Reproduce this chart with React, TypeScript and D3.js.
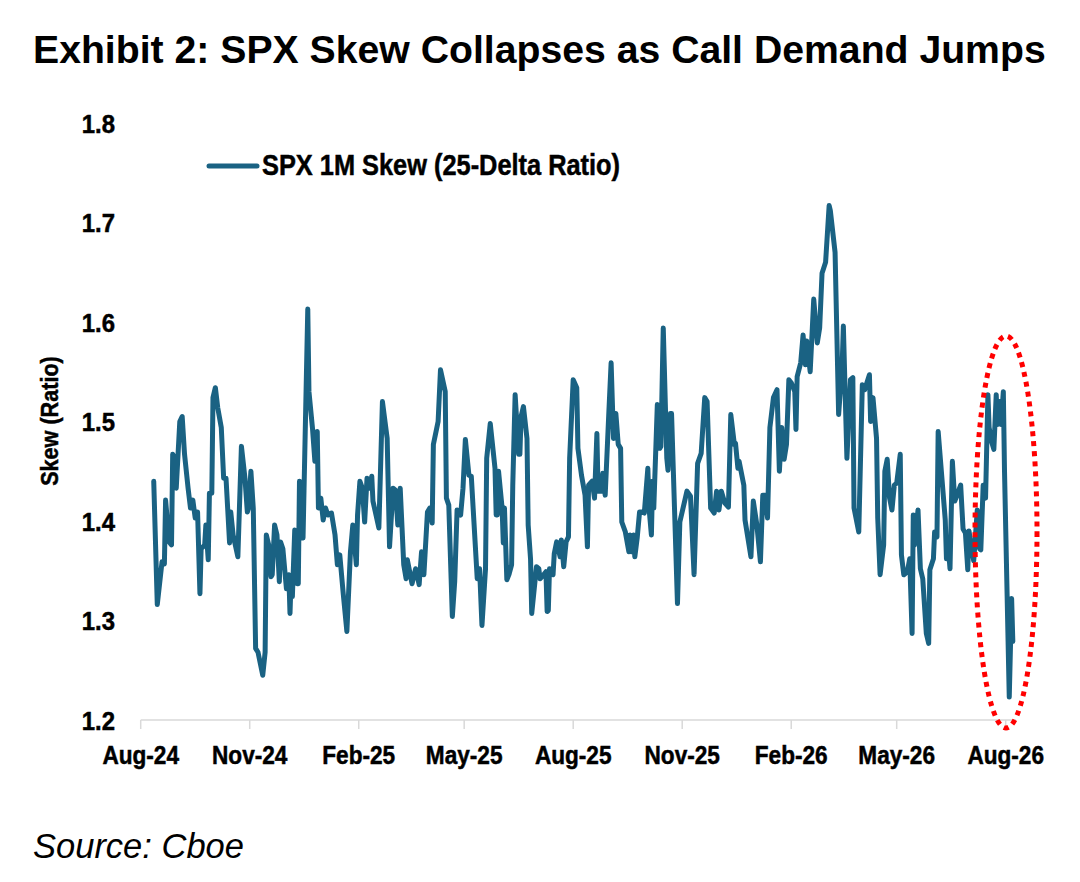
import * as d3 from "d3";

const obsDates: string[] = [
  "2024-08-12", "2024-08-15", "2024-08-19", "2024-08-21", "2024-08-22", "2024-08-25", "2024-08-27", "2024-08-28", "2024-08-29", "2024-08-31",
  "2024-09-03", "2024-09-05", "2024-09-07", "2024-09-10", "2024-09-12", "2024-09-14", "2024-09-16", "2024-09-18", "2024-09-20", "2024-09-21", "2024-09-24", "2024-09-25", "2024-09-27", "2024-09-28", "2024-09-30",
  "2024-10-01", "2024-10-03", "2024-10-05", "2024-10-08", "2024-10-10", "2024-10-12", "2024-10-15", "2024-10-16", "2024-10-18", "2024-10-22", "2024-10-25", "2024-10-28", "2024-10-30", "2024-10-31",
  "2024-11-02", "2024-11-04", "2024-11-06", "2024-11-08", "2024-11-12", "2024-11-14", "2024-11-15", "2024-11-17", "2024-11-19", "2024-11-20", "2024-11-22", "2024-11-24", "2024-11-26", "2024-11-27", "2024-11-29",
  "2024-12-02", "2024-12-04", "2024-12-05", "2024-12-06", "2024-12-07", "2024-12-09", "2024-12-11", "2024-12-12", "2024-12-13", "2024-12-15", "2024-12-16", "2024-12-20", "2024-12-21", "2024-12-24", "2024-12-26", "2024-12-28", "2024-12-29", "2024-12-31",
  "2025-01-02", "2025-01-04", "2025-01-06", "2025-01-09", "2025-01-12", "2025-01-14", "2025-01-16", "2025-01-19", "2025-01-22", "2025-01-25", "2025-01-27", "2025-01-30", "2025-01-31",
  "2025-02-02", "2025-02-04", "2025-02-06", "2025-02-08", "2025-02-10", "2025-02-12", "2025-02-13", "2025-02-18", "2025-02-21", "2025-02-25", "2025-02-27",
  "2025-03-02", "2025-03-04", "2025-03-06", "2025-03-08", "2025-03-11", "2025-03-13", "2025-03-14", "2025-03-18", "2025-03-21", "2025-03-24", "2025-03-26", "2025-03-28", "2025-03-31",
  "2025-04-02", "2025-04-04", "2025-04-05", "2025-04-09", "2025-04-11", "2025-04-15", "2025-04-16", "2025-04-18", "2025-04-21", "2025-04-23", "2025-04-25", "2025-04-28", "2025-04-30",
  "2025-05-02", "2025-05-05", "2025-05-07", "2025-05-12", "2025-05-14", "2025-05-16", "2025-05-19", "2025-05-20", "2025-05-23", "2025-05-27", "2025-05-28", "2025-05-29", "2025-05-30",
  "2025-06-02", "2025-06-03", "2025-06-04", "2025-06-06", "2025-06-08", "2025-06-10", "2025-06-11", "2025-06-13", "2025-06-16", "2025-06-17", "2025-06-18", "2025-06-20", "2025-06-23", "2025-06-24", "2025-06-26", "2025-06-27",
  "2025-07-01", "2025-07-03", "2025-07-04", "2025-07-07", "2025-07-09", "2025-07-10", "2025-07-11", "2025-07-12", "2025-07-15", "2025-07-16", "2025-07-18", "2025-07-21", "2025-07-22", "2025-07-24", "2025-07-26", "2025-07-28", "2025-07-29",
  "2025-08-01", "2025-08-04", "2025-08-05", "2025-08-08", "2025-08-11", "2025-08-13", "2025-08-14", "2025-08-17", "2025-08-19", "2025-08-21", "2025-08-22", "2025-08-25", "2025-08-26", "2025-08-28", "2025-08-31",
  "2025-09-02", "2025-09-04", "2025-09-06", "2025-09-08", "2025-09-10", "2025-09-11", "2025-09-14", "2025-09-17", "2025-09-18", "2025-09-19", "2025-09-21", "2025-09-22", "2025-09-24", "2025-09-26", "2025-09-28", "2025-09-30",
  "2025-10-03", "2025-10-04", "2025-10-06", "2025-10-07", "2025-10-08", "2025-10-11", "2025-10-13", "2025-10-14", "2025-10-16", "2025-10-19", "2025-10-20", "2025-10-22", "2025-10-23", "2025-10-28", "2025-10-30",
  "2025-11-05", "2025-11-08", "2025-11-11", "2025-11-14", "2025-11-17", "2025-11-20", "2025-11-22", "2025-11-25", "2025-11-28", "2025-11-30",
  "2025-12-02", "2025-12-04", "2025-12-07", "2025-12-10", "2025-12-12", "2025-12-15", "2025-12-16", "2025-12-18", "2025-12-19", "2025-12-23", "2025-12-24", "2025-12-29", "2025-12-31",
  "2026-01-03", "2026-01-06", "2026-01-08", "2026-01-10", "2026-01-12", "2026-01-14", "2026-01-17", "2026-01-20", "2026-01-22", "2026-01-24", "2026-01-26", "2026-01-28", "2026-01-30",
  "2026-02-01", "2026-02-04", "2026-02-05", "2026-02-06", "2026-02-09", "2026-02-11", "2026-02-13", "2026-02-14", "2026-02-17", "2026-02-20", "2026-02-23", "2026-02-25", "2026-02-27",
  "2026-03-02", "2026-03-05", "2026-03-06", "2026-03-10", "2026-03-13", "2026-03-16", "2026-03-17", "2026-03-20", "2026-03-23", "2026-03-25", "2026-03-26", "2026-03-30",
  "2026-04-02", "2026-04-04", "2026-04-08", "2026-04-09", "2026-04-11", "2026-04-14", "2026-04-15", "2026-04-17", "2026-04-20", "2026-04-21", "2026-04-23", "2026-04-25", "2026-04-27", "2026-04-29",
  "2026-05-01", "2026-05-04", "2026-05-05", "2026-05-07", "2026-05-10", "2026-05-12", "2026-05-14", "2026-05-15", "2026-05-16", "2026-05-19", "2026-05-21", "2026-05-23", "2026-05-26", "2026-05-28", "2026-05-29",
  "2026-06-01", "2026-06-02", "2026-06-04", "2026-06-05", "2026-06-11", "2026-06-12", "2026-06-13", "2026-06-15", "2026-06-17", "2026-06-19", "2026-06-21", "2026-06-24", "2026-06-26", "2026-06-28", "2026-06-30",
  "2026-07-01", "2026-07-03", "2026-07-05", "2026-07-08", "2026-07-10", "2026-07-11", "2026-07-13", "2026-07-15", "2026-07-17", "2026-07-18", "2026-07-20", "2026-07-22", "2026-07-24", "2026-07-25", "2026-07-27", "2026-07-28", "2026-07-30", "2026-07-31",
  "2026-08-04", "2026-08-06", "2026-08-07",
];

// SPX 1M skew, 25-delta ratio (same order as obsDates, one row per month)
const skew: number[] = [
  1.440, 1.316, 1.359, 1.357, 1.421, 1.379, 1.376, 1.467, 1.465, 1.433,
  1.500, 1.505, 1.467, 1.433, 1.413, 1.421, 1.403, 1.409, 1.327, 1.372, 1.376, 1.396, 1.361, 1.428, 1.428,
  1.524, 1.534, 1.514, 1.494, 1.443, 1.443, 1.378, 1.409, 1.386, 1.364, 1.475, 1.443, 1.409, 1.413,
  1.450, 1.413, 1.272, 1.268, 1.245, 1.268, 1.386, 1.376, 1.344, 1.346, 1.396, 1.386, 1.339, 1.379, 1.372,
  1.332, 1.346, 1.307, 1.344, 1.324, 1.391, 1.337, 1.337, 1.440, 1.394, 1.383, 1.613, 1.530, 1.493, 1.460, 1.490, 1.413, 1.423,
  1.401, 1.413, 1.406, 1.408, 1.386, 1.356, 1.366, 1.326, 1.289, 1.369, 1.396, 1.356, 1.406,
  1.440, 1.433, 1.399, 1.443, 1.433, 1.445, 1.420, 1.393, 1.520, 1.483, 1.374,
  1.433, 1.431, 1.396, 1.433, 1.356, 1.342, 1.361, 1.337, 1.352, 1.336, 1.369, 1.346, 1.409,
  1.413, 1.398, 1.477, 1.500, 1.552, 1.530, 1.423, 1.416, 1.304, 1.339, 1.411, 1.406, 1.433,
  1.482, 1.446, 1.445, 1.342, 1.352, 1.295, 1.352, 1.463, 1.498, 1.453, 1.406, 1.406, 1.450,
  1.413, 1.378, 1.413, 1.341, 1.347, 1.356, 1.436, 1.527, 1.467, 1.467, 1.505, 1.515, 1.483, 1.396, 1.362, 1.307,
  1.354, 1.352, 1.342, 1.346, 1.349, 1.309, 1.310, 1.352, 1.346, 1.367, 1.379, 1.364, 1.381, 1.354, 1.379, 1.384, 1.463,
  1.542, 1.534, 1.473, 1.446, 1.426, 1.374, 1.436, 1.440, 1.423, 1.488, 1.430, 1.430, 1.448, 1.426, 1.507,
  1.559, 1.483, 1.508, 1.477, 1.473, 1.399, 1.389, 1.369, 1.386, 1.369, 1.386, 1.364, 1.383, 1.409, 1.409, 1.408,
  1.453, 1.413, 1.386, 1.440, 1.413, 1.517, 1.473, 1.475, 1.594, 1.463, 1.451, 1.508, 1.508, 1.317, 1.399,
  1.430, 1.425, 1.346, 1.458, 1.468, 1.524, 1.520, 1.413, 1.408, 1.430,
  1.411, 1.430, 1.418, 1.414, 1.507, 1.477, 1.478, 1.453, 1.460, 1.436, 1.401, 1.364, 1.420,
  1.396, 1.359, 1.426, 1.426, 1.403, 1.494, 1.524, 1.532, 1.450, 1.494, 1.462, 1.477, 1.542,
  1.539, 1.530, 1.492, 1.545, 1.559, 1.587, 1.557, 1.581, 1.550, 1.623, 1.579, 1.594, 1.649,
  1.660, 1.717, 1.712, 1.670, 1.507, 1.557, 1.596, 1.463, 1.542, 1.544, 1.413, 1.389,
  1.537, 1.532, 1.547, 1.500, 1.524, 1.483, 1.403, 1.346, 1.376, 1.450, 1.462, 1.423, 1.411, 1.436,
  1.438, 1.467, 1.366, 1.346, 1.349, 1.362, 1.287, 1.406, 1.376, 1.411, 1.352, 1.342, 1.287, 1.277, 1.351,
  1.362, 1.389, 1.384, 1.490, 1.401, 1.362, 1.383, 1.352, 1.460, 1.420, 1.426, 1.436, 1.392, 1.388, 1.351,
  1.390, 1.375, 1.360, 1.411, 1.372, 1.371, 1.436, 1.423, 1.527, 1.494, 1.480, 1.472, 1.527, 1.497, 1.520, 1.497, 1.530, 1.450,
  1.223, 1.322, 1.279,
];

const yTicks = [1.2, 1.3, 1.4, 1.5, 1.6, 1.7, 1.8];
const xTickDates = [
  "2024-08-01", "2024-11-01", "2025-02-01", "2025-05-01", "2025-08-01",
  "2025-11-01", "2026-02-01", "2026-05-01", "2026-08-01",
];

const titleText = "Exhibit 2: SPX Skew Collapses as Call Demand Jumps";
const seriesName = "SPX 1M Skew (25-Delta Ratio)";
const yTitle = "Skew (Ratio)";
const sourceText = "Source: Cboe";

const W = 1080;
const H = 882;
const lineColor = "#1a6283";
const arial = "'Liberation Sans', Arial, Helvetica, sans-serif";

// no narrow font installed, so squeeze Liberation Sans Bold horizontally
const NarrowText = ({ x, y, k, size, anchor = "start", rotate = 0, children }: {
  x: number; y: number; k: number; size: number; anchor?: string; rotate?: number; children: string;
}) => (
  <text
    transform={`translate(${x},${y}) rotate(${rotate}) scale(${k},1)`}
    textAnchor={anchor}
    fontFamily={arial}
    fontWeight="bold"
    fontSize={size}
    fill="#000"
    stroke="#000"
    strokeWidth={0.5}
  >
    {children}
  </text>
);

export default function App() {
  const x = d3.scaleUtc()
    .domain([new Date("2024-08-01"), new Date("2026-08-01")])
    .range([140.7, 1005.7]);
  const y = d3.scaleLinear().domain([1.2, 1.8]).range([720, 123]);
  const fmt = d3.utcFormat("%b-%y");

  const points: [Date, number][] = obsDates.map((d, i) => [new Date(d), skew[i]]);
  const path = d3.line<[Date, number]>()
    .x((d) => x(d[0]))
    .y((d) => y(d[1]))(points) ?? "";

  const ticks = xTickDates.map((d) => new Date(d));

  return (
    <svg
      width={W}
      height={H}
      style={{ position: "absolute", left: 0, top: 0, background: "#fff" }}
    >
      <text x={33} y={63} fontFamily={arial} fontWeight="bold" fontSize={39.2} fill="#000">
        {titleText}
      </text>

      {/* y axis labels */}
      {yTicks.map((t) => (
        <NarrowText key={t} x={115} y={y(t) + 9.5} k={0.92} size={26} anchor="end">
          {t.toFixed(1)}
        </NarrowText>
      ))}
      <NarrowText x={58} y={421} k={0.9} size={24} anchor="middle" rotate={-90}>
        {yTitle}
      </NarrowText>

      {/* x axis */}
      <line x1={140.7} x2={1016} y1={720} y2={720} stroke="#d9d9d9" strokeWidth={1.5} />
      {ticks.map((t) => (
        <g key={t.toISOString()}>
          <line x1={x(t)} x2={x(t)} y1={720} y2={729} stroke="#d9d9d9" strokeWidth={1.5} />
          <NarrowText x={x(t)} y={764} k={0.87} size={26} anchor="middle">
            {fmt(t)}
          </NarrowText>
        </g>
      ))}

      <path d={path} fill="none" stroke={lineColor} strokeWidth={5} strokeLinejoin="round" strokeLinecap="round" />

      {/* legend */}
      <line x1={209} x2={257} y1={166} y2={166} stroke={lineColor} strokeWidth={5} strokeLinecap="round" />
      <NarrowText x={262} y={175} k={0.875} size={29}>
        {seriesName}
      </NarrowText>

      {/* highlight */}
      <ellipse
        cx={1006}
        cy={532}
        rx={31}
        ry={196}
        fill="none"
        stroke="#ff0000"
        strokeWidth={5}
        strokeDasharray="5 5"
      />

      <text x={33} y={858} fontFamily={arial} fontStyle="italic" fontSize={34.5} fill="#000">
        {sourceText}
      </text>
    </svg>
  );
}
